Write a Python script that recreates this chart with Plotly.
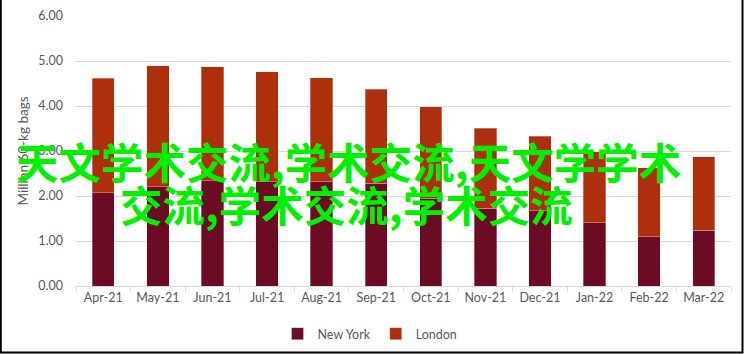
import plotly.graph_objects as go

months = ["Apr-21", "May-21", "Jun-21", "Jul-21", "Aug-21", "Sep-21",
          "Oct-21", "Nov-21", "Dec-21", "Jan-22", "Feb-22", "Mar-22"]
new_york = [2.07, 2.21, 2.34, 2.32, 2.32, 2.28, 1.95, 1.73, 1.67, 1.41, 1.09, 1.24]
london = [2.55, 2.68, 2.53, 2.44, 2.31, 2.09, 2.03, 1.78, 1.66, 1.57, 1.54, 1.63]
y_ticks = [0, 1, 2, 3, 4, 5, 6]
y_tick_text = ["0.00", "1.00", "2.00", "3.00", "4.00", "5.00", "6.00"]
overlay_lines = ["天文学术交流,学术交流,天文学学术", "交流,学术交流,学术交流"]

W, H = 745, 354
L, R, T, B = 76, 14, 16, 68
pw, ph = W - L - R, H - T - B

def px(x):
    return (x - L) / pw

def py(y):
    return (H - B - y) / ph

fig = go.Figure()
fig.add_trace(go.Bar(x=months, y=new_york, name="New York",
                     marker=dict(color="#6B0C24", line=dict(color="rgba(255,220,220,0.6)", width=0.6))))
fig.add_trace(go.Bar(x=months, y=london, name="London",
                     marker=dict(color="#AE2F0C", line=dict(color="rgba(255,220,220,0.6)", width=0.6))))

font_fam = "Lato, 'Open Sans', sans-serif"
fig.update_layout(
    width=W, height=H, barmode="stack", bargap=0.59,
    margin=dict(l=L, r=R, t=T, b=B, pad=0, autoexpand=False),
    paper_bgcolor="white", plot_bgcolor="white",
    font=dict(family=font_fam, size=12, color="#595959"),
    xaxis=dict(showgrid=False, showline=True, linecolor="#d9d9d9", linewidth=1,
               ticks="outside", tickson="boundaries", ticklen=5, tickcolor="#d9d9d9",
               tickfont=dict(size=12.5, color="#595959"), automargin=False),
    yaxis=dict(range=[0, 6], tickvals=y_ticks, ticktext=y_tick_text,
               showgrid=True, gridcolor="#d9d9d9", gridwidth=1, zeroline=False,
               showline=False, ticks="", ticklabelstandoff=12, automargin=False,
               tickfont=dict(size=12.5, color="#595959"),
               title=dict(text="Million 60-kg bags", font=dict(size=13.5, color="#595959"), standoff=6)),
    legend=dict(orientation="h", x=px(370), xanchor="center", y=py(334), yanchor="middle",
                font=dict(size=12.5, color="#595959"), itemwidth=30, traceorder="normal",
                tracegroupgap=0),
    showlegend=True,
)

cjk_font = dict(family="Noto Sans CJK SC", size=42.5, color="#00f000", weight="bold")
fig.add_annotation(text=overlay_lines[0], xref="paper", yref="paper", x=px(348), y=py(160),
                   xanchor="center", yanchor="middle", showarrow=False, font=cjk_font)
fig.add_annotation(text=overlay_lines[1], xref="paper", yref="paper", x=px(346), y=py(203),
                   xanchor="center", yanchor="middle", showarrow=False, font=cjk_font)

# frame border (left, bottom, right)
fig.add_shape(type="path", xref="paper", yref="paper",
              path=f"M {px(0.8)} {py(-5)} L {px(0.8)} {py(352.5)} L {px(742.5)} {py(352.5)} L {px(742.5)} {py(-5)}",
              line=dict(color="black", width=2))

fig.write_html("out.html")
